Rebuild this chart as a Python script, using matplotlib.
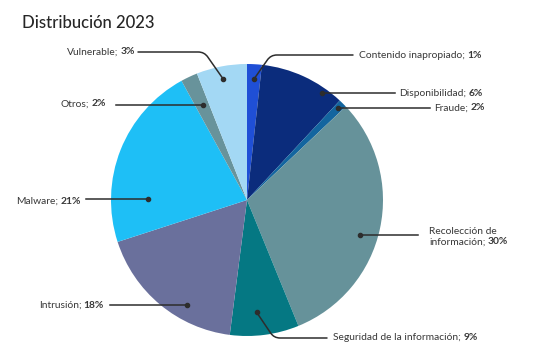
import math
import matplotlib.pyplot as plt

plt.rcParams['font.family'] = ['Lato', 'DejaVu Sans']

W, H = 548, 361

# --- data (slices clockwise from the top) ---
categories = ["Contenido inapropiado", "Disponibilidad", "Fraude",
              "Recolección de\ninformación", "Seguridad de la información",
              "Intrusión", "Malware", "Otros", "Vulnerable"]
pct_labels = ["1%", "6%", "2%", "30%", "9%", "18%", "21%", "2%", "3%"]
# slice sizes as drawn in the picture
shares = [1.75, 10.2, 1.0, 30.9, 8.2, 18.0, 22.0, 2.0, 6.0]
colors = ["#1f4fd6", "#0b2c7c", "#13659f", "#66929a", "#057883",
          "#6a709c", "#1ebff6", "#68939b", "#a3d8f4"]

# --- label layout: (pos along wedge, radius frac, line end x, text x, text y, side, bend angle)
# pixel coords measured from top-left
layout = [
    (0.52, 0.89, 353, 359, 55, "left", 55),
    (0.78, 0.96, 395, 399, 93, "left", None),
    (0.50, 0.95, 430, 434, 108, "left", None),
    (0.545, 0.87, 418, 429, 236, "left", None),
    (0.585, 0.83, 327, 333, 338, "left", -56),
    (0.35, 0.89, 110, 104, 305, "right", None),
    (0.234, 0.73, 86, 81, 201, "right", None),
    (0.55, 0.77, 116, 106, 104, "right", None),
    (0.48, 0.91, 138, 135, 52, "right", -55),
]

text_c = "#383838"
line_c = "#2d2d2d"
fs = 7.4

fig = plt.figure(figsize=(W / 100, H / 100), dpi=100)
ax = fig.add_axes([0, 0, 1, 1])

cx, cy, R = 247, H - 200, 136
ax.pie(shares, colors=colors, startangle=90, counterclock=False,
       center=(cx, cy), radius=R, wedgeprops=dict(linewidth=0), frame=True)
ax.set_xlim(0, W)
ax.set_ylim(0, H)
ax.set_aspect('equal')
ax.axis('off')


def label(x, y, normal, bold, side):
    if side == "left":
        t1 = ax.text(x, y, normal, ha='left', va='center', fontsize=fs, color=text_c)
        ax.annotate(bold, xy=(1, 0), xycoords=t1, xytext=(2.5, 0),
                    textcoords='offset pixels', ha='left', va='bottom',
                    fontsize=fs, fontweight='bold', color=text_c)
    else:
        t2 = ax.text(x, y, bold, ha='right', va='center', fontsize=fs,
                     fontweight='bold', color=text_c)
        ax.annotate(normal, xy=(0, 0), xycoords=t2, xytext=(-2.5, 0),
                    textcoords='offset pixels', ha='right', va='bottom',
                    fontsize=fs, color=text_c)


total = sum(shares)
start = 0.0
for name, pct, share, lay in zip(categories, pct_labels, shares, layout):
    t, rf, end_x, tx, ty, side, bend = lay
    span = 360 * share / total
    cw = start + t * span
    start += span
    a = math.radians(90 - cw)
    dx, dy = cx + rf * R * math.cos(a), cy + rf * R * math.sin(a)
    ax.plot(dx, dy, 'o', ms=3, color=line_c, zorder=5)
    ty = H - ty
    if bend is None:
        ax.plot([dx, end_x], [dy, dy], color=line_c, lw=1.1, zorder=4)
    else:
        ax.annotate('', xy=(dx, dy), xytext=(end_x, ty),
                    arrowprops=dict(arrowstyle='-', color=line_c, lw=1.1,
                                    shrinkA=0, shrinkB=0,
                                    connectionstyle=f"angle,angleA=0,angleB={bend},rad=6"))
    if "\n" in name:
        first, second = name.split("\n")
        ax.text(tx, ty + 5, first, ha='left', va='center', fontsize=fs, color=text_c)
        label(tx, ty - 6, second + ";", pct, side)
    else:
        label(tx, ty, name + ";", pct, side)

ax.text(22, H - 28, "Distribución 2023", ha='left', va='baseline',
        fontsize=12, fontweight='medium', color="#262626")

fig.savefig("out.png", dpi=100)
